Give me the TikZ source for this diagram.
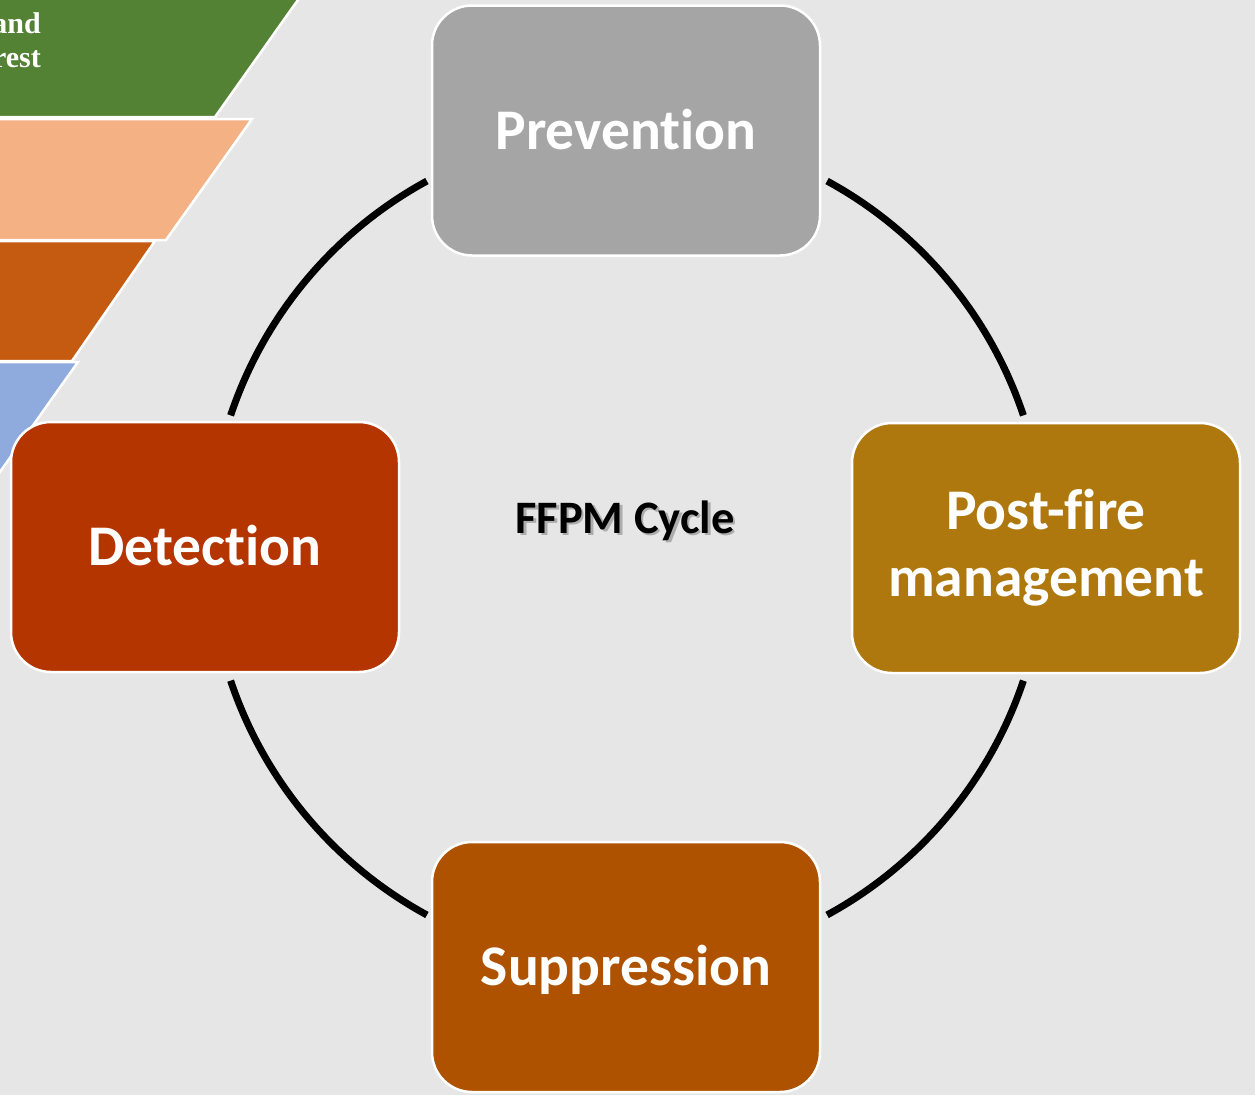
\documentclass[tikz,border=0pt]{standalone}
\usepackage{fontspec}
\newfontfamily\carlito[Ligatures=NoCommon]{Carlito}
\newfontfamily\tnr{Liberation Serif}
\definecolor{bgc}{HTML}{E6E6E6}
\definecolor{cprev}{HTML}{A5A5A5}
\definecolor{cdet}{HTML}{B43500}
\definecolor{cpost}{HTML}{AE780E}
\definecolor{csupp}{HTML}{AE5200}
\definecolor{fgreen}{HTML}{548235}
\definecolor{fpeach}{HTML}{F4B183}
\definecolor{forange}{HTML}{C55A11}
\definecolor{fblue}{HTML}{8FAADC}
\tikzset{
  stagebox/.style={draw=white, line width=2.5pt, rounded corners=40pt,
    minimum width=388pt, minimum height=250pt, inner sep=0pt,
    text=white, font=\carlito\bfseries\fontsize{57.5}{67}\selectfont},
  oneline/.style={text height=37pt, text depth=0pt},
  funnel/.style={draw=white, line width=2.5pt},
  funtxt/.style={anchor=base east, inner sep=0pt, text=white,
    font=\tnr\bfseries\fontsize{30}{34}\selectfont},
  cycarc/.style={draw=black, line width=7pt},
  titletxt/.style={inner sep=0pt, anchor=base, font=\carlito\bfseries\fontsize{46.5}{50}\selectfont},
}
\begin{document}
\begin{tikzpicture}[x=1pt,y=-1pt]
\useasboundingbox (0,0) rectangle (1255,1095);
\fill[bgc] (0,0) rectangle (1255,1095);
\begin{scope}
\clip (0,0) rectangle (1255,1095);
% funnel pieces (cut off at left)
\path[funnel, fill=fgreen] (-10,-10) -- (305,-10) -- (215,117) -- (-10,117) -- cycle;
\path[funnel, fill=fpeach] (-10,119) -- (252,119) -- (166,240) -- (-10,240) -- cycle;
\path[funnel, fill=forange] (-10,241) -- (155,241) -- (72,361) -- (-10,361) -- cycle;
\path[funnel, fill=fblue] (-10,362) -- (78,362) -- (-10,486) -- cycle;
\node[funtxt] (funtext1) at (41,33) {and};
\node[funtxt] (funtext2) at (41,67) {rest};
\end{scope}
% cycle
\coordinate (c) at (627,548);
\draw[cycarc] (c) ++(-118.6:418) arc[start angle=-118.6, end angle=-161.5, radius=418];
\draw[cycarc] (c) ++(-198.5:418) arc[start angle=-198.5, end angle=-241.4, radius=418];
\draw[cycarc] (c) ++(-298.6:418) arc[start angle=-298.6, end angle=-341.5, radius=418];
\draw[cycarc] (c) ++(-18.5:418) arc[start angle=-18.5, end angle=-61.4, radius=418];
% stages
\node[stagebox, oneline, fill=cprev] (prev) at (626,130.5) {Prevention};
\node[stagebox, oneline, fill=cdet] (det) at (205,547) {Detection};
\node[stagebox, fill=cpost, align=center, yshift=-1pt] (post) at (1046,547) {Post-fire\\management};
\node[stagebox, oneline, fill=csupp] (supp) at (626,967) {Suppression};
% centre title
\node[titletxt, text=black!55, opacity=0.5] (titleshadow) at (627.5,535) {FFPM Cycle};
\node[titletxt, text=black] (title) at (625,533) {FFPM Cycle};
\end{tikzpicture}
\end{document}
